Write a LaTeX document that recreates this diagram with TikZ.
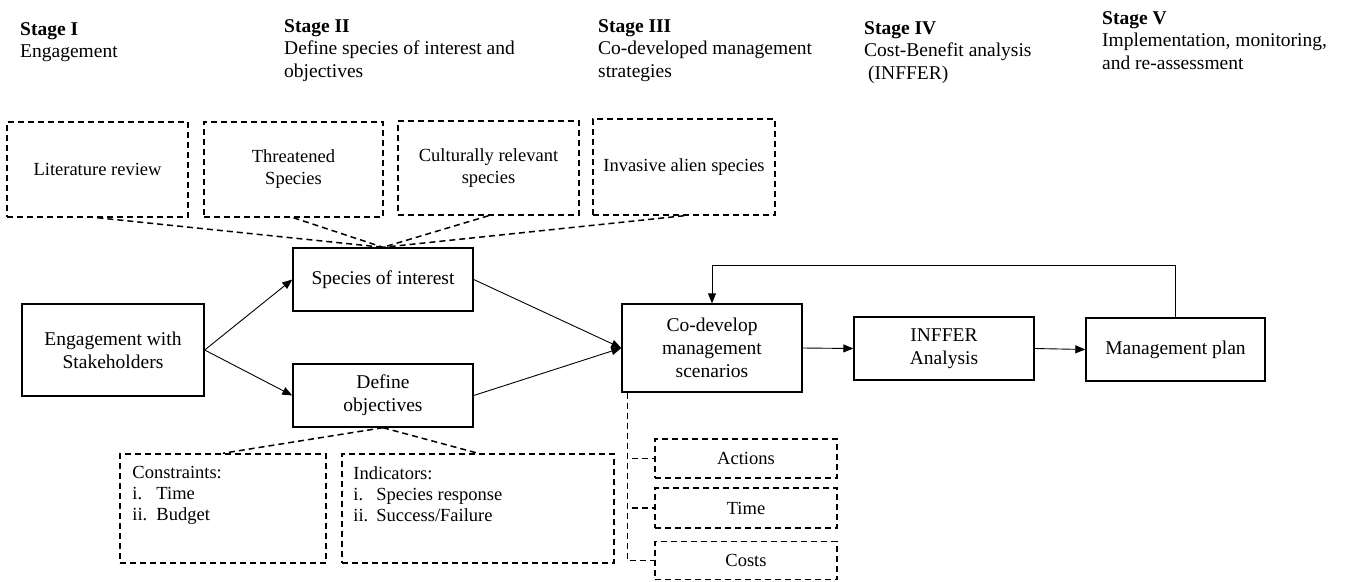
\documentclass[tikz,border=0pt]{standalone}
\usepackage{fontspec}
\setmainfont{Liberation Serif}
\usetikzlibrary{arrows.meta,calc}
\begin{document}
\begin{tikzpicture}[x=1pt,y=-1pt,
  sbox/.style={draw, line width=1.4pt, align=center, inner sep=0pt, font=\fontsize{19.5}{23}\selectfont},
  dbox/.style={draw, dash pattern=on 6pt off 4pt, line width=1.5pt, align=center, inner sep=0pt, font=\fontsize{18.5}{22}\selectfont},
  dline/.style={dash pattern=on 6pt off 4pt, line width=1.5pt},
  arr/.style={line width=0.9pt, -{Triangle[length=10pt,width=8pt]}},
  head/.style={anchor=north west, align=left, inner sep=0pt, font=\fontsize{19.5}{22.5}\selectfont},
  ltext/.style={anchor=north west, align=left, inner sep=0pt, font=\fontsize{18.5}{21}\selectfont}]
\useasboundingbox (0,0) rectangle (1354,581);

% headings
\node[head] (h1) at (20,22) {\textbf{Stage I}\\Engagement};
\node[head] (h2) at (284,19) {\textbf{Stage II}\\Define species of interest and\\objectives};
\node[head] (h3) at (598,19) {\textbf{Stage III}\\Co-developed management\\strategies};
\node[head] (h4) at (864,21) {\textbf{Stage IV}\\Cost-Benefit analysis\\\hspace{4pt}(INFFER)};
\node[head] (h5) at (1102,11) {\textbf{Stage V}\\Implementation, monitoring,\\and re-assessment};

% top dashed boxes
\node[dbox, minimum width=181pt, minimum height=95pt] (lit) at (97.5,169.5) {Literature review};
\node[dbox, minimum width=179pt, minimum height=95pt] (thr) at (293.5,169.5) {Threatened\\Species};
\node[dbox, minimum width=181pt, minimum height=94pt] (cul) at (488.5,168) {Culturally relevant\\species};
\node[dbox, minimum width=182pt, minimum height=96pt] (inv) at (684,167) {Invasive alien species};

% main boxes
\node[sbox, minimum width=182pt, minimum height=92pt] (eng) at (113,350) {Engagement with\\Stakeholders};
\node[sbox, minimum width=180pt, minimum height=63pt] (spe) at (383,279.5) {Species of interest};
\node[sbox, minimum width=180pt, minimum height=63pt] (obj) at (383,395.5) {Define\\objectives};
\node[sbox, minimum width=180pt, minimum height=88pt] (cod) at (712,348) {Co-develop\\management\\scenarios};
\node[sbox, minimum width=180pt, minimum height=63pt] (inf) at (944,348.5) {INFFER\\Analysis};
\node[sbox, minimum width=179pt, minimum height=63pt] (man) at (1175.5,349.5) {Management plan};

% bottom dashed boxes
\node[dbox, minimum width=206pt, minimum height=109pt] (con) at (223,508.5) {};
\node[dbox, minimum width=272pt, minimum height=109pt] (ind) at (478,508.5) {};
\node[ltext] (cont) at ($(con.north west)+(13,13)$) {Constraints:\\\makebox[24pt][l]{i.}Time\\\makebox[24pt][l]{ii.}Budget};
\node[ltext] (indt) at ($(ind.north west)+(12,13)$) {Indicators:\\\makebox[23pt][l]{i.}Species response\\\makebox[23pt][l]{ii.}Success/Failure};

\node[dbox, minimum width=182pt, minimum height=39pt] (act) at (746,458.5) {Actions};
\node[dbox, minimum width=182pt, minimum height=40pt] (tim) at (746,508) {Time};
\node[dbox, minimum width=182pt, minimum height=38pt] (cst) at (746,560.5) {Costs};

% dashed connectors
\foreach \b in {lit,thr,cul,inv} \draw[dline] (\b.south) -- (spe.north);
\draw[dline] (obj.south) -- (con.north);
\draw[dline] (obj.south) -- (ind.north);
\coordinate (v) at ($(cod.south west)+(6,0)$);
\draw[dline] (v) |- (act.west);
\draw[dline] (v) |- (tim.west);
\draw[dline] (v) |- (cst.west);

% arrows
\draw[arr] (eng.east) -- (spe.west);
\draw[arr] (eng.east) -- (obj.west);
\draw[arr] (spe.east) -- (cod.west);
\draw[arr] (obj.east) -- (cod.west);
\draw[arr] (cod.east) -- (inf.west);
\draw[arr] (inf.east) -- (man.west);
\draw[arr] (man.north) -- ++(0,-52) -| (cod.north);
\end{tikzpicture}
\end{document}
